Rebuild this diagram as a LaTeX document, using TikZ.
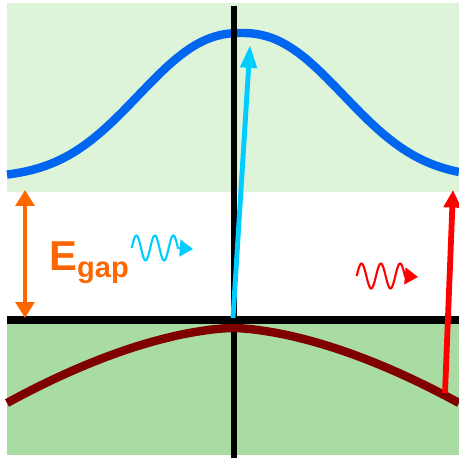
\documentclass[tikz,border=0pt]{standalone}
\usepackage{fontspec}
\usepackage{tikz}
\usetikzlibrary{arrows.meta}
\newfontfamily\gapfont{Liberation Sans}
\definecolor{bandtop}{RGB}{222,244,217}
\definecolor{bandbot}{RGB}{168,220,162}
\definecolor{cbblue}{RGB}{0,102,240}
\definecolor{vbred}{RGB}{128,0,0}
\definecolor{gaporange}{RGB}{255,102,0}
\definecolor{photcyan}{RGB}{0,204,255}

\begin{document}
\begin{tikzpicture}[x=0.02cm, y=-0.02cm,
  axis/.style={black, line width=3.2pt},
  band/.style={line width=4.8pt, line join=round},
  exc/.style={line width=2.8pt, -{Triangle[length=13pt, width=9pt]}},
  photon/.style={line width=1.2pt, -{Triangle[length=7.5pt, width=9.5pt]}},
  egap/.style={gaporange, inner sep=0pt, font=\gapfont\bfseries\fontsize{23.8}{24}\selectfont}]
\useasboundingbox (0,0) rectangle (459,460);
% shaded bands
\fill[bandtop] (7,3) rectangle (459,192);
\fill[bandbot] (7,324) rectangle (459,455);
% conduction band
\draw[band, cbblue] plot[domain=7:459, samples=90, smooth] (\x, {178-145*exp(-(abs(\x-241.01)/131.8)^2.3)});
% k = 0 axis
\coordinate (ktop) at (234,6);
\coordinate (kbot) at (234,458);
\draw[axis] (ktop) -- (kbot);
% valence band
\draw[band, vbred] plot[domain=7:459, samples=91, smooth] (\x, {328+75*(abs(\x-233.01)/226)^1.65});
\coordinate (vl) at (7,320);
\coordinate (vr) at (459,320);
\draw[black, line width=4.5pt] (vl) -- (vr);
% gap
\coordinate (gtop) at (25,190);
\coordinate (gbot) at (25,318);
\draw[gaporange, line width=2.6pt, {Triangle[length=9pt, width=10.5pt]}-{Triangle[length=9pt, width=10.5pt]}] (gtop) -- (gbot);
\node[egap, anchor=base west] (eg) at (49,270) {E\raisebox{-4.5pt}{\fontsize{16.5}{17}\selectfont gap}};
% photons
\draw[photon, photcyan] plot[domain=0:2.5, samples=60, smooth] ({131.7+18.5*\x}, {248-12.5*sin(360*\x)}) -- (193,249);
\draw[photon, red] plot[domain=0:2.5, samples=60, smooth] ({356.7+19.3*\x}, {276-12.5*sin(360*\x)}) -- (418,277);
% transitions
\coordinate (kv) at (233,318);
\coordinate (kc) at (250,45);
\draw[exc, photcyan] (kv) -- (kc);
\coordinate (rv) at (445,393);
\coordinate (rc) at (453,190);
\draw[exc, red, line width=3.3pt, -{Triangle[length=10pt, width=9.6pt]}] (rv) -- (rc);
\end{tikzpicture}
\end{document}
